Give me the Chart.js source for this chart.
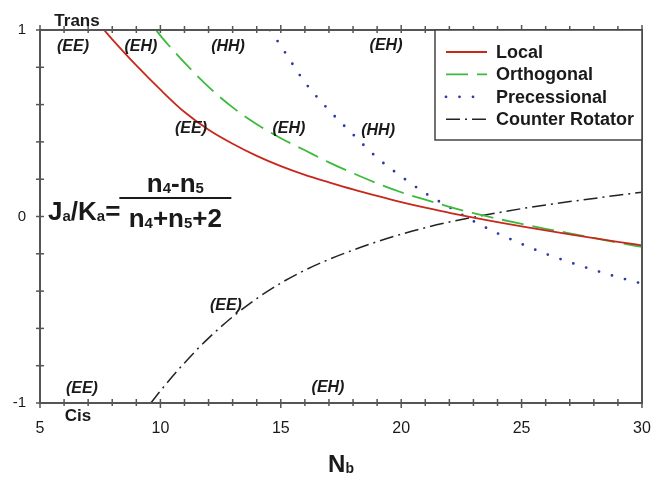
<!DOCTYPE html>
<html lang="en">
<head>
<meta charset="UTF-8">
<title>Ja/Ka versus Nb</title>
<script src="https://cdn.jsdelivr.net/npm/chart.js"></script>
<style>
    html, body {
        margin: 0;
        padding: 0;
        background: #fff;
    }
    .chart-container {
        width: 652px;
        height: 477px;
    }
</style>
</head>
<body>
<div class="chart-container">
    <canvas id="chart" width="652" height="477"></canvas>
</div>
<script>
// values (x = Nb, y = Ja/Ka)
const localX = [7.66, 8, 9, 10, 11, 12, 13, 14, 15, 16, 17, 18, 19, 20, 21, 22, 23, 24, 25, 26, 27, 28, 29, 30];
const localY = [1.0, 0.95, 0.81, 0.68, 0.56, 0.465, 0.39, 0.325, 0.27, 0.223, 0.183, 0.145, 0.11, 0.077, 0.047, 0.02, -0.006, -0.03, -0.053, -0.075, -0.096, -0.116, -0.136, -0.155];

const orthoX = [9.82, 10, 11, 12, 13, 14, 15, 16, 17, 18, 19, 20, 21, 22, 23, 24, 25, 26, 27, 28, 29, 30];
const orthoY = [1.0, 0.97, 0.825, 0.695, 0.585, 0.495, 0.42, 0.355, 0.29, 0.232, 0.178, 0.13, 0.09, 0.052, 0.018, -0.012, -0.04, -0.066, -0.09, -0.115, -0.14, -0.163];

const precX = [14.55, 15, 16, 17, 18, 19, 20, 21, 22, 23, 24, 25, 26, 27, 28, 29, 30];
const precY = [1.0, 0.915, 0.72, 0.57, 0.44, 0.315, 0.215, 0.125, 0.05, -0.025, -0.09, -0.147, -0.2, -0.245, -0.287, -0.325, -0.36];

const counterX = [9.6, 10, 11, 12, 13, 14, 15, 16, 17, 18, 19, 20, 21, 22, 23, 24, 25, 26, 27, 28, 29, 30];
const counterY = [-1.0, -0.935, -0.785, -0.652, -0.538, -0.44, -0.357, -0.288, -0.23, -0.18, -0.135, -0.095, -0.06, -0.03, -0.004, 0.02, 0.042, 0.062, 0.08, 0.097, 0.114, 0.13];

const seriesNames = ["Local", "Orthogonal", "Precessional", "Counter Rotator"];
const xTickLabels = [5, 10, 15, 20, 25, 30];
const yTickLabels = [-1, 0, 1];

// region labels, placed in data coordinates
const regionLabels = [
    { text: "(EE)", x: 6.37, y: 0.91 },
    { text: "(EH)", x: 9.19, y: 0.91 },
    { text: "(HH)", x: 12.81, y: 0.91 },
    { text: "(EH)", x: 19.37, y: 0.915 },
    { text: "(EE)", x: 11.27, y: 0.47 },
    { text: "(EH)", x: 15.34, y: 0.47 },
    { text: "(HH)", x: 19.04, y: 0.46 },
    { text: "(EE)", x: 12.72, y: -0.48 },
    { text: "(EE)", x: 6.74, y: -0.925 },
    { text: "(EH)", x: 16.96, y: -0.92 }
];

const FONT = "'Liberation Sans', Arial, sans-serif";

function pts(xs, ys) {
    return xs.map((v, i) => ({ x: v, y: ys[i] }));
}

// draws a run of text pieces (for subscripts), returns total width
function runs(ctx, parts, x, base, draw) {
    let w = 0;
    parts.forEach(p => {
        ctx.font = "bold " + p.size + "px " + FONT;
        if (draw) ctx.fillText(p.t, x + w, base + (p.dy || 0));
        w += ctx.measureText(p.t).width;
    });
    return w;
}

function seg(ctx, x1, y1, x2, y2) {
    ctx.beginPath();
    ctx.moveTo(x1, y1);
    ctx.lineTo(x2, y2);
    ctx.stroke();
}

const decor = {
    id: "decor",
    afterDraw(chart) {
        const { ctx, chartArea: a, scales: { x, y } } = chart;
        ctx.save();

        // frame
        ctx.strokeStyle = "#555";
        ctx.lineWidth = 2;
        ctx.setLineDash([]);
        ctx.strokeRect(a.left, a.top, a.right - a.left, a.bottom - a.top);

        // ticks
        ctx.lineWidth = 1.5;
        for (let v = 5; v <= 30; v++) {
            const px = x.getPixelForValue(v);
            const major = v % 5 === 0;
            seg(ctx, px, a.bottom - 4, px, a.bottom + (major ? 5 : 3));
            seg(ctx, px, a.top - (major ? 5 : 4), px, a.top + 3);
        }
        for (let k = -5; k <= 5; k++) {
            const py = y.getPixelForValue(k / 5);
            seg(ctx, a.left - 4, py, a.left + 4, py);
        }

        // tick labels
        ctx.fillStyle = "#1a1a1a";
        ctx.font = "16px " + FONT;
        ctx.textAlign = "center";
        ctx.textBaseline = "alphabetic";
        xTickLabels.forEach(v => ctx.fillText(String(v), x.getPixelForValue(v), a.bottom + 30));
        ctx.font = "15px " + FONT;
        ctx.textAlign = "right";
        ctx.textBaseline = "middle";
        yTickLabels.forEach(v => ctx.fillText(String(v), a.left - 14, y.getPixelForValue(v)));

        // Trans / Cis
        ctx.font = "bold 17px " + FONT;
        ctx.textAlign = "center";
        ctx.textBaseline = "alphabetic";
        ctx.fillText("Trans", a.left + 37, a.top - 4);
        ctx.fillText("Cis", a.left + 38, a.bottom + 18);

        // region labels
        ctx.font = "italic bold 16px " + FONT;
        ctx.textBaseline = "middle";
        regionLabels.forEach(l => ctx.fillText(l.text, x.getPixelForValue(l.x), y.getPixelForValue(l.y)));

        // axis title N_b
        ctx.textAlign = "left";
        ctx.textBaseline = "alphabetic";
        const nb = [{ t: "N", size: 24 }, { t: "b", size: 14, dy: 1 }];
        const nbW = runs(ctx, nb, 0, 0, false);
        runs(ctx, nb, (a.left + a.right) / 2 - nbW / 2, a.bottom + 69, true);

        // formula
        const fx = a.left + 8;
        const barY = a.top + 168;
        const lhs = [
            { t: "J", size: 26 }, { t: "a", size: 15, dy: 1 },
            { t: "/K", size: 26 }, { t: "a", size: 15, dy: 1 }, { t: "=", size: 26 }
        ];
        const lhsW = runs(ctx, lhs, fx, barY + 22, true);
        const barL = fx + lhsW - 1;
        const barR = barL + 112;
        ctx.strokeStyle = "#1a1a1a";
        ctx.lineWidth = 2;
        seg(ctx, barL, barY, barR, barY);
        const num = [
            { t: "n", size: 26 }, { t: "4", size: 15, dy: 1 }, { t: "-", size: 26 },
            { t: "n", size: 26 }, { t: "5", size: 15, dy: 1 }
        ];
        const den = [
            { t: "n", size: 26 }, { t: "4", size: 15, dy: 1 }, { t: "+", size: 26 },
            { t: "n", size: 26 }, { t: "5", size: 15, dy: 1 }, { t: "+2", size: 26 }
        ];
        const mid = (barL + barR) / 2;
        const numW = runs(ctx, num, 0, 0, false);
        runs(ctx, num, mid - numW / 2, barY - 6, true);
        const denW = runs(ctx, den, 0, 0, false);
        runs(ctx, den, mid - denW / 2, barY + 29, true);

        // legend box
        const bx = a.right - 207, by = a.top, bh = 110;
        ctx.fillStyle = "#fff";
        ctx.fillRect(bx, by, a.right - bx, bh);
        ctx.strokeStyle = "#444";
        ctx.lineWidth = 1.5;
        ctx.strokeRect(bx, by, a.right - bx, bh);
        chart.data.datasets.forEach((ds, i) => {
            const ry = by + 22 + i * 22.4;
            ctx.save();
            ctx.strokeStyle = ds.borderColor;
            ctx.lineWidth = ds.borderWidth;
            ctx.lineCap = ds.borderCapStyle || "butt";
            ctx.setLineDash(ds.borderDash || []);
            const x2 = i === 2 ? bx + 40 : bx + 52;
            seg(ctx, bx + 11, ry, x2, ry);
            ctx.restore();
            ctx.fillStyle = "#1a1a1a";
            ctx.font = "bold 18px " + FONT;
            ctx.textAlign = "left";
            ctx.textBaseline = "middle";
            ctx.fillText(ds.label, bx + 61, ry + 1);
        });

        ctx.restore();
    }
};

new Chart(document.getElementById("chart"), {
    type: "line",
    data: {
        datasets: [
            {
                label: seriesNames[0],
                data: pts(localX, localY),
                borderColor: "#c8281c",
                borderWidth: 1.8,
                cubicInterpolationMode: "monotone"
            },
            {
                label: seriesNames[1],
                data: pts(orthoX, orthoY),
                borderColor: "#3dba3d",
                borderWidth: 1.8,
                borderDash: [22, 9],
                cubicInterpolationMode: "monotone"
            },
            {
                label: seriesNames[2],
                data: pts(precX, precY),
                borderColor: "#2c3aa6",
                borderWidth: 2.8,
                borderDash: [0, 13.5],
                borderCapStyle: "round",
                cubicInterpolationMode: "monotone"
            },
            {
                label: seriesNames[3],
                data: pts(counterX, counterY),
                borderColor: "#222",
                borderWidth: 1.5,
                borderDash: [14, 5, 2, 5],
                cubicInterpolationMode: "monotone"
            }
        ]
    },
    options: {
        responsive: false,
        animation: false,
        devicePixelRatio: 1,
        layout: { padding: { left: 40, right: 10, top: 30, bottom: 74 } },
        elements: { point: { radius: 0 } },
        scales: {
            x: { type: "linear", min: 5, max: 30, display: false },
            y: { type: "linear", min: -1, max: 1, display: false }
        },
        plugins: {
            legend: { display: false },
            tooltip: { enabled: false }
        }
    },
    plugins: [decor]
});
</script>
</body>
</html>
